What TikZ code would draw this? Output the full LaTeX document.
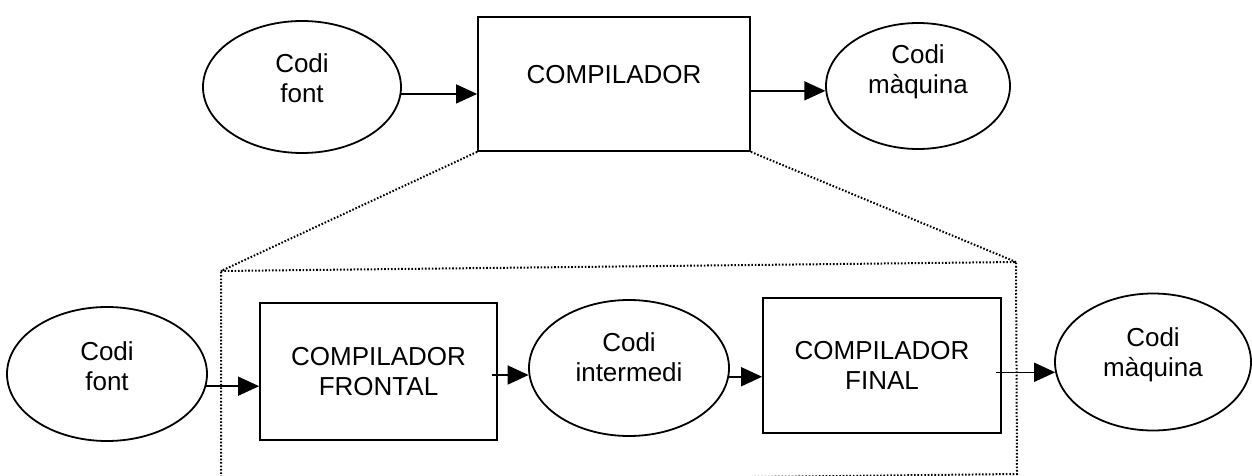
\documentclass[tikz,border=0pt]{standalone}
\usepackage{fontspec}
\setmainfont{Liberation Sans}
\usetikzlibrary{shapes.geometric,arrows.meta}
\begin{document}
\begin{tikzpicture}[x=1pt,y=-1pt,
  every node/.style={font=\fontsize{26}{30}\selectfont, align=center, inner sep=0pt},
  oval/.style={draw, ellipse, line width=1.8pt},
  boxnode/.style={draw, rectangle, line width=1.8pt},
  lbl/.style={},
  arr/.style={line width=1.5pt, -{Triangle[length=21pt,width=19pt]}},
  dots/.style={line width=2pt, dash pattern=on 1.6pt off 1.8pt}
]
\fill[white] (0,0) rectangle (1252,476);
\useasboundingbox (0,0) rectangle (1252,476);

% top row
\node[oval, minimum width=198pt, minimum height=132pt] (e1) at (302,87) {};
\node[lbl] (e1t) at (302,78) {Codi\\font};
\node[boxnode, minimum width=272pt, minimum height=134pt] (c1) at (614,84) {};
\node[lbl] (c1t) at (614,75) {COMPILADOR};
\node[oval, minimum width=184pt, minimum height=126pt] (e2) at (918,86) {};
\node[lbl] (e2t) at (918,72) {Codi\\màquina};

\draw[arr] (e1.-4) -- (e1.-4 -| c1.west);
\draw[arr] (c1.east |- e2.183) -- (e2.183);

% dotted zoom box
\coordinate (tl) at (221,271);
\coordinate (tr) at (1016,262);
\coordinate (br) at (1017,474);
\coordinate (bl) at (221,483);
\draw[dots] (tl) -- (tr) -- (br) -- (bl) -- cycle;
\draw[dots] (c1.south west) -- (tl);
\draw[dots] (c1.south east) -- (tr);

% bottom row
\node[oval, minimum width=200pt, minimum height=134pt] (f1) at (107,374) {};
\node[lbl] (f1t) at (107,366) {Codi\\font};
\node[boxnode, minimum width=237pt, minimum height=137pt] (r1) at (378.5,371.5) {COMPILADOR\\FRONTAL};
\node[oval, minimum width=200pt, minimum height=136pt] (e3) at (629,368) {};
\node[lbl] (e3t) at (629,357) {Codi\\intermedi};
\node[boxnode, minimum width=238pt, minimum height=135pt] (r2) at (882,365.5) {COMPILADOR\\FINAL};
\node[oval, minimum width=196pt, minimum height=137pt] (e4) at (1153,362) {};
\node[lbl] (e4t) at (1153,355) {Codi\\màquina};

\draw[arr] (f1.-7.5) -- (f1.-7.5 -| r1.west);
\draw[arr] ([xshift=-6pt]r1.east |- e3.184) -- (e3.184);
\draw[arr] (e3.-5) -- (e3.-5 -| r2.west);
\draw[arr] ([xshift=-6pt]r2.east |- e4.186) -- (e4.186);
\end{tikzpicture}
\end{document}
